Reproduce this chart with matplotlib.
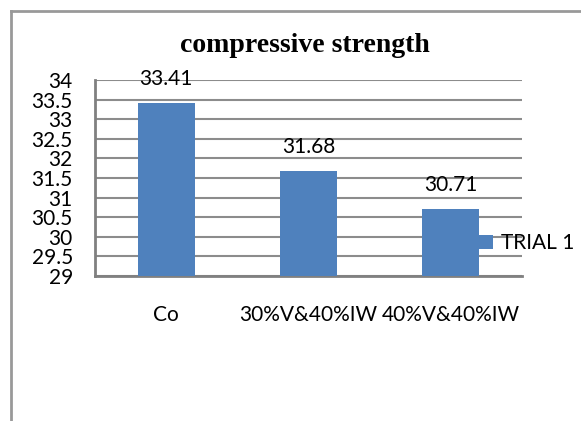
import matplotlib
matplotlib.use("Agg")
import matplotlib.pyplot as plt
from matplotlib.lines import Line2D

# compressive strength results, one trial
mixes = ["Co", "30%V&40%IW", "40%V&40%IW"]
trial1 = [33.41, 31.68, 30.71]
yticks = [29, 29.5, 30, 30.5, 31, 31.5, 32, 32.5, 33, 33.5, 34]

bar_color = "#4F81BD"
grid_color = "#8C8C8C"
fs = 15

plt.rcParams["font.family"] = ["Lato", "DejaVu Sans"]

fig = plt.figure(figsize=(5.81, 4.21), dpi=100)
ax = fig.add_axes([95 / 581, 1 - 276 / 421, 427 / 581, 196 / 421])

x = range(len(mixes))
bars = ax.bar(x, trial1, width=0.4, color=bar_color, zorder=3, label="TRIAL 1")

ax.set_xlim(-0.5, len(mixes) - 0.5)
ax.set_ylim(29, 34)
ax.set_yticks(yticks)
ax.set_yticklabels([f"{v:g}" for v in yticks], fontsize=fs)
ax.set_xticks(list(x))
ax.set_xticklabels(mixes, fontsize=fs)
ax.tick_params(axis="y", length=0, pad=16)
ax.tick_params(axis="x", length=0, pad=21)

ax.yaxis.grid(True, color=grid_color, linewidth=1.5, zorder=0)
for side in ["top", "right"]:
    ax.spines[side].set_visible(False)
for side in ["left", "bottom"]:
    ax.spines[side].set_color("#808080")
    ax.spines[side].set_linewidth(2)

# value labels above each bar
for b, v in zip(bars, trial1):
    ax.annotate(f"{v:.2f}", (b.get_x() + b.get_width() / 2, v),
                xytext=(0, 10), textcoords="offset points",
                ha="center", va="bottom", fontsize=fs)

fig.text(0.5 * (178 + 432) / 581, 1 - 45 / 421, "compressive strength",
         ha="center", va="center", fontsize=20, fontweight="bold",
         family="Liberation Serif")

fig.legend(handles=[bars], labels=["TRIAL 1"], loc="center left",
           bbox_to_anchor=(479 / 581, 1 - 243 / 421), frameon=False,
           borderpad=0, borderaxespad=0, handlelength=0.65, handleheight=0.65,
           handletextpad=0.4, fontsize=fs)

# chart area border (top and left edges)
fig.add_artist(Line2D([11 / 581, 1], [1 - 10.5 / 421] * 2,
                      transform=fig.transFigure, color="#999999", linewidth=2))
fig.add_artist(Line2D([11 / 581] * 2, [0, 1 - 10.5 / 421],
                      transform=fig.transFigure, color="#999999", linewidth=2))

fig.savefig("out.png", dpi=100)
